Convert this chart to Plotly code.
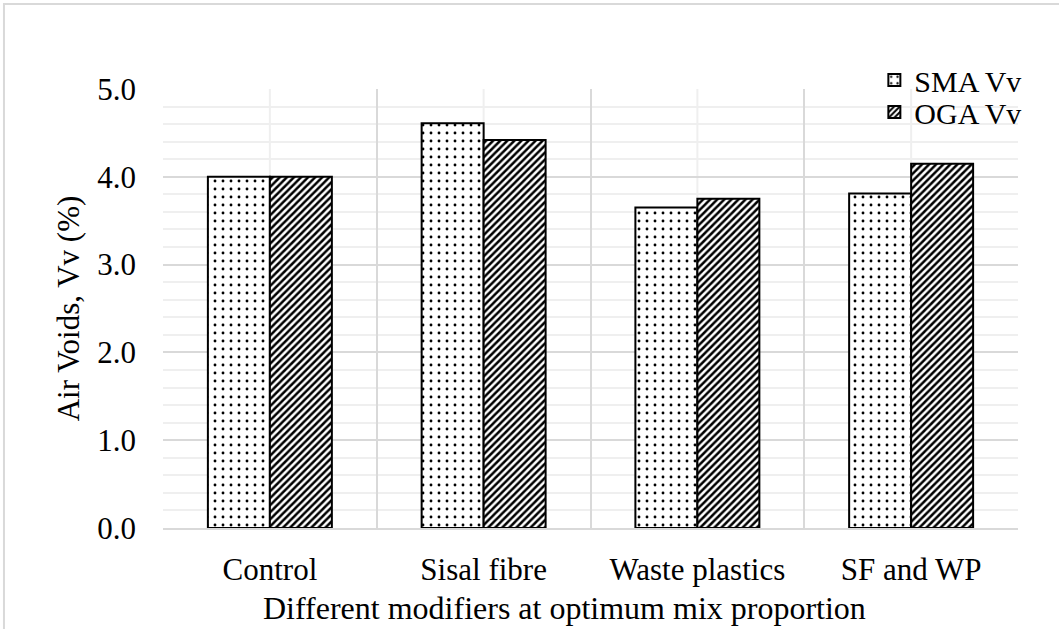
import plotly.graph_objects as go

categories = ["Control", "Sisal fibre", "Waste plastics", "SF and WP"]
sma_vv = [4.0, 4.61, 3.65, 3.81]
oga_vv = [4.0, 4.42, 3.75, 4.15]
y_ticks = [0.0, 1.0, 2.0, 3.0, 4.0, 5.0]

SERIF = "Liberation Serif"
MAJOR_GRID = "#d9d9d9"
MINOR_GRID = "#efefef"


def serif(size):
    return dict(family=SERIF, size=size, color="black")


fig = go.Figure()
fig.add_trace(go.Bar(
    name="SMA Vv", x=categories, y=sma_vv, legend="legend",
    marker=dict(color="white", line=dict(color="black", width=2),
                pattern=dict(shape=".", fgcolor="black", bgcolor="white",
                             size=8, solidity=0.1, fillmode="replace")),
))
fig.add_trace(go.Bar(
    name="OGA Vv", x=categories, y=oga_vv, legend="legend2",
    marker=dict(color="black", line=dict(color="black", width=2),
                pattern=dict(shape="/", fgcolor="black", bgcolor="white",
                             size=5, solidity=0.5, fillmode="replace")),
))

# light centre lines through each category group
for c in categories:
    fig.add_shape(type="line", xref="x", yref="paper", x0=c, x1=c, y0=0, y1=1,
                  line=dict(color=MINOR_GRID, width=2), layer="below")

# outer chart frame
fig.add_shape(type="rect", xref="paper", yref="paper",
              x0=-0.186, x1=1.07, y0=-0.26, y1=1.1936,
              line=dict(color="#d9d9d9", width=2), layer="below")

# x-axis title, set slightly left of the plot centre
fig.add_annotation(text="Different modifiers at optimum mix proportion",
                   xref="paper", yref="paper", x=0.47, y=-0.182,
                   xanchor="center", yanchor="middle", showarrow=False,
                   font=serif(32))

legend_common = dict(xanchor="left", yanchor="middle", bgcolor="rgba(0,0,0,0)",
                     font=serif(30), itemwidth=30, borderwidth=0)

fig.update_layout(
    width=1059, height=629,
    margin=dict(l=163, r=41, t=89, b=101, autoexpand=False),
    paper_bgcolor="white", plot_bgcolor="white",
    barmode="group", bargap=0.42, bargroupgap=0,
    font=serif(30),
    showlegend=True,
    legend=dict(x=0.832, y=(528 - 80) / 439, **legend_common),
    legend2=dict(x=0.832, y=(528 - 112) / 439, **legend_common),
    xaxis=dict(
        type="category", tickson="boundaries", showgrid=True,
        gridcolor=MAJOR_GRID, gridwidth=2, ticks="", showline=True,
        linecolor=MAJOR_GRID, linewidth=2, mirror=False, automargin=False,
        tickfont=serif(31), ticklabelstandoff=13,
    ),
    yaxis=dict(
        range=[0, 5], tickvals=y_ticks, ticktext=[f"{v:.1f}" for v in y_ticks],
        showgrid=True, gridcolor=MAJOR_GRID, gridwidth=2,
        minor=dict(dtick=0.2, showgrid=True, gridcolor=MINOR_GRID, gridwidth=2),
        zeroline=False, showline=False, ticks="", automargin=False,
        title=dict(text="Air Voids, Vv (%)", standoff=8, font=serif(31)),
        tickfont=serif(31), ticklabelstandoff=26,
    ),
)

fig.write_html("out.html")
